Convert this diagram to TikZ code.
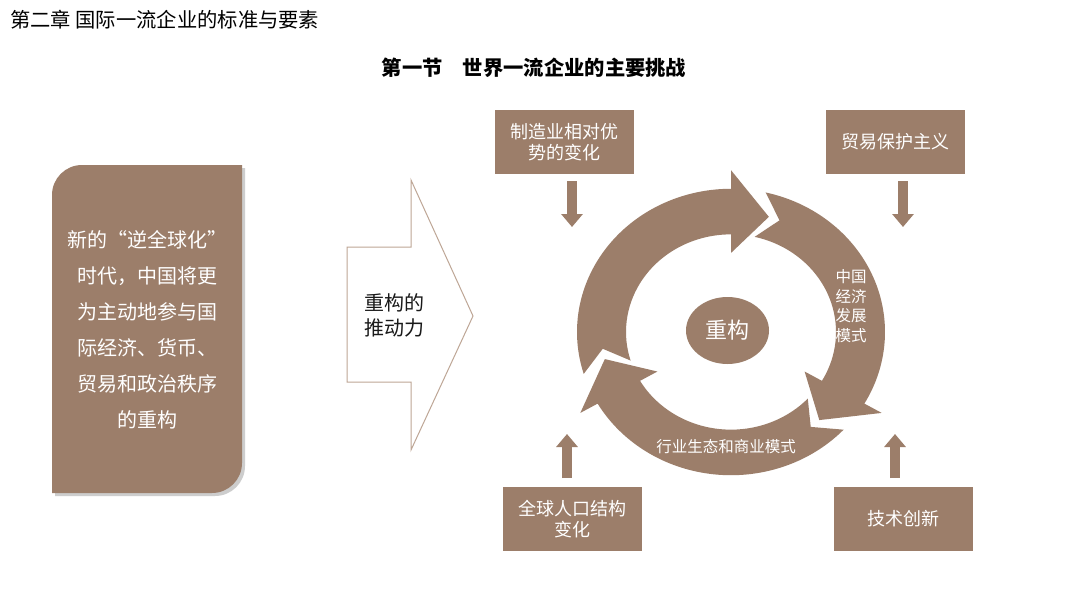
\documentclass[tikz,border=0pt]{standalone}
\usepackage{fontspec}
\setmainfont{Noto Sans CJK SC}
\usetikzlibrary{arrows.meta}
\definecolor{brownc}{RGB}{156,126,106}
\definecolor{outl}{RGB}{190,166,150}
\definecolor{shadowc}{RGB}{205,205,205}
\newcommand\cycarrow[1]{%
  \fill[brownc] ({#1+107}:154) arc[start angle={#1+107}, end angle={#1}, radius=154]
    -- ({#1}:174) -- ({#1-17}:129.5) -- ({#1}:85) -- ({#1}:105)
    arc[start angle={#1}, end angle={#1+107}, radius=105]
    -- ({#1+98}:129.5) -- cycle;}
\newcommand\leftshape[2]{%
  (52+#1,493+#2) -- (52+#1,195+#2) arc[start angle=180, end angle=270, radius=30]
  -- (242+#1,165+#2) -- (242+#1,463+#2) arc[start angle=0, end angle=90, radius=30] -- cycle}
\begin{document}
\begin{tikzpicture}[x=1pt,y=-1pt,
  box/.style={fill=brownc, text=white, minimum width=139pt, minimum height=64pt,
    align=center, inner sep=0pt, font=\fontsize{18}{21}\selectfont},
  blockarrow/.style={draw=brownc, line width=10pt, -{Triangle[width=21pt,length=13pt]}},
  ringlabel/.style={text=white, align=center, inner sep=0pt, font=\fontsize{15.5}{19.5}\selectfont}]
\useasboundingbox[fill=white] (0,0) rectangle (1080,608);

% titles
\node[anchor=west, inner sep=0pt, font=\fontsize{20.3}{21}\selectfont] (chap) at (10,20) {第二章 国际一流企业的标准与要素};
\node[inner sep=0pt, font=\bfseries\fontsize{20.3}{22}\selectfont] (sec) at (534,68) {第一节　世界一流企业的主要挑战};

% left box
\fill[shadowc] \leftshape{3}{3};
\fill[brownc] \leftshape{0}{0};
\node[text=white, align=center, inner sep=0pt, font=\fontsize{20}{36}\selectfont] (lefttext) at (147,330)
  {新的“逆全球化”\\时代，中国将更\\为主动地参与国\\际经济、货币、\\贸易和政治秩序\\的重构};

% big outline arrow
\draw[outl, line width=1pt, fill=white] (347,247) -- (411,247) -- (411,180) -- (473,316)
  -- (411,450) -- (411,382) -- (347,382) -- cycle;
\node[anchor=west, align=left, inner sep=0pt, text=black!90, font=\fontsize{20}{25}\selectfont] (drive) at (364,315) {重构的\\推动力};

% cycle
\begin{scope}[shift={(731,332)}, yscale=-0.93]
  \cycarrow{90}
  \cycarrow{-30}
  \cycarrow{210}
\end{scope}
\fill[brownc] (727.5,330.5) ellipse[x radius=41.5, y radius=33.5];
\node[text=white, inner sep=0pt, font=\fontsize{22}{24}\selectfont] (core) at (727.5,330.5) {重构};
\node[ringlabel] (lab1) at (851,306) {中国\\经济\\发展\\模式};
\node[ringlabel] (lab2) at (726,447) {行业生态和商业模式};

% outer boxes
\node[box] (tl) at (564.5,142) {制造业相对优\\势的变化};
\node[box] (tr) at (895,142) {贸易保护主义};
\node[box] (bl) at (572,519) {全球人口结构\\变化};
\node[box] (br) at (903,519) {技术创新};

% block arrows
\coordinate (tls) at (572,181); \coordinate (tle) at (572,227);
\coordinate (trs) at (903,181); \coordinate (tre) at (903,227);
\coordinate (bls) at (567,478); \coordinate (ble) at (567,434);
\coordinate (brs) at (895,478); \coordinate (bre) at (895,434);
\draw[blockarrow] (tls) -- (tle);
\draw[blockarrow] (trs) -- (tre);
\draw[blockarrow] (bls) -- (ble);
\draw[blockarrow] (brs) -- (bre);
\end{tikzpicture}
\end{document}
